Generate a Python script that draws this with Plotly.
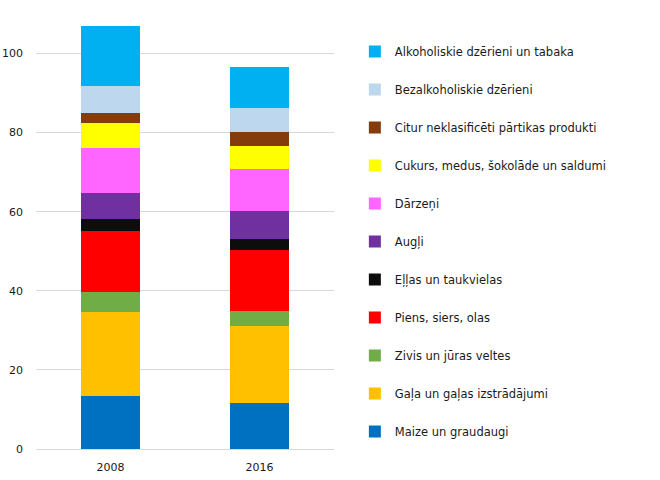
import plotly.graph_objects as go

years = ["2008", "2016"]
categories = [
    "Maize un graudaugi",
    "Gaļa un gaļas izstrādājumi",
    "Zivis un jūras veltes",
    "Piens, siers, olas",
    "Eļļas un taukvielas",
    "Augļi",
    "Dārzeņi",
    "Cukurs, medus, šokolāde un saldumi",
    "Citur neklasificēti pārtikas produkti",
    "Bezalkoholiskie dzērieni",
    "Alkoholiskie dzērieni un tabaka",
]
values_2008 = [13.3, 21.4, 4.9, 15.6, 3.0, 6.6, 11.4, 6.2, 2.6, 6.8, 15.1]
values_2016 = [11.7, 19.3, 4.0, 15.4, 2.7, 7.1, 10.6, 5.8, 3.6, 6.0, 10.4]
colors = ["#0070C0", "#FFC000", "#70AD47", "#FF0000", "#0D0D0D", "#7030A0",
          "#FF66FF", "#FFFF00", "#843C0C", "#BDD7EE", "#00B0F0"]

fig = go.Figure()
n = len(categories)
for i, cat in enumerate(categories):
    fig.add_trace(go.Bar(
        x=years, y=[values_2008[i], values_2016[i]], name=cat,
        marker=dict(color=colors[i], line=dict(width=0)),
        legendgroup=f"g{i}",
        legendrank=n - i,
    ))

font_family = "DejaVu Sans"
fig.update_layout(
    barmode="stack",
    bargap=0.6,
    width=660, height=480,
    margin=dict(l=36, r=326, t=14, b=31),
    plot_bgcolor="white", paper_bgcolor="white",
    font=dict(family=font_family, size=11, color="#1a1a1a"),
    legend=dict(
        traceorder="grouped",
        tracegroupgap=19,
        x=1.07, xanchor="left",
        y=0.947, yanchor="top",
        font=dict(size=11.5, color="#1a1a1a"),
        itemwidth=30,
    ),
    xaxis=dict(showgrid=False, showline=False, ticks="", tickfont=dict(size=11),
               ticklabelstandoff=10, automargin=False),
    yaxis=dict(range=[0, 110], dtick=20, showgrid=True, gridcolor="#D9D9D9",
               gridwidth=1, zeroline=True, zerolinecolor="#D9D9D9", zerolinewidth=1,
               showline=False, ticks="", tickfont=dict(size=11), ticklabelstandoff=12,
               automargin=False),
)

fig.write_html("out.html")
